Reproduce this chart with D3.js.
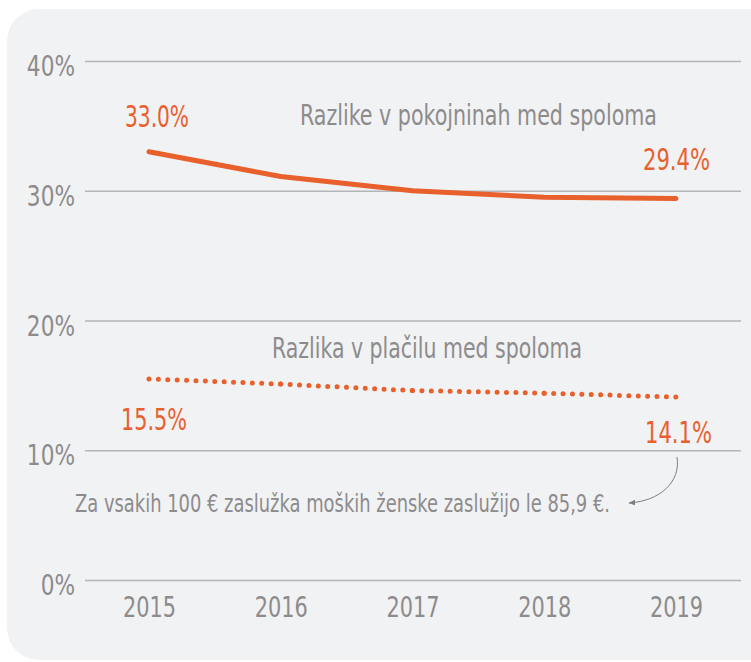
<!DOCTYPE html>
<html><head><meta charset="utf-8">
<script src="https://cdn.jsdelivr.net/npm/d3@7"></script>
<style>
html,body{margin:0;padding:0;background:#fff;}
svg{display:block;}
text{font-family:"Liberation Sans Narrow","DejaVu Sans Condensed","Roboto Condensed",sans-serif;}
</style></head>
<body>
<script>
const years = ["2015","2016","2017","2018","2019"];
const pensionGap = [33.0, 31.1, 30.0, 29.5, 29.4];
const payGap = [15.5, 15.1, 14.6, 14.4, 14.1];
const yTicks = [0, 10, 20, 30, 40];
const pensionTitle = "Razlike v pokojninah med spoloma";
const payTitle = "Razlika v plačilu med spoloma";
const note = "Za vsakih 100 € zaslužka moških ženske zaslužijo le 85,9 €.";

const W = 751, H = 662;
const orange = "#E8602C", gray = "#8d8b8b", grid = "#b5b5b7";
const svg = d3.select("body").append("svg").attr("width", W).attr("height", H);

function squeeze(sel, f) {
  sel.each(function () {
    const n = this.getComputedTextLength();
    d3.select(this).attr("textLength", n * f).attr("lengthAdjust", "spacingAndGlyphs");
  });
}

svg.append("rect").attr("x", 7).attr("y", 9).attr("width", 775).attr("height", 651)
  .attr("rx", 32).attr("fill", "#F1F2F4");

const x = d3.scalePoint().domain(years).range([149, 676]);
const y = d3.scaleLinear().domain([0, 40]).range([580, 61]);

// gridlines
const gy = svg.append("g").attr("transform", "translate(741,0)");
gy.call(d3.axisRight(y).tickValues(yTicks).tickSize(-(741-85)).tickFormat(""));
gy.select(".domain").remove();
gy.selectAll(".tick line").attr("stroke", grid).attr("stroke-width", 1.3);

// y labels
const yl = svg.append("g").selectAll("text").data(yTicks).join("text")
  .attr("x", 75).attr("y", d => y(d) + 15).attr("text-anchor", "end")
  .attr("font-size", 29).attr("fill", gray).text(d => d + "%");
squeeze(yl, 0.83);

// x labels
const gx = svg.append("g").attr("transform", "translate(0,580)")
  .call(d3.axisBottom(x).tickSize(0).tickPadding(0));
gx.select(".domain").remove();
const xt = gx.selectAll(".tick text").attr("y", 37).attr("dy", 0).attr("font-size", 29)
  .attr("fill", gray).attr("font-family", '"Liberation Sans Narrow","DejaVu Sans Condensed",sans-serif');
squeeze(xt, 0.8);

// solid line
const line = d3.line().x((d, i) => x(years[i])).y(d => y(d)).curve(d3.curveLinear);
svg.append("path").attr("d", line(pensionGap)).attr("fill", "none")
  .attr("stroke", orange).attr("stroke-width", 5).attr("stroke-linecap", "round")
  .attr("stroke-linejoin", "round");

// dotted line, per segment
for (let i = 0; i < payGap.length - 1; i++) {
  svg.append("path")
    .attr("d", d3.line()([[x(years[i]), y(payGap[i])], [x(years[i + 1]), y(payGap[i + 1])]]))
    .attr("fill", "none").attr("stroke", orange).attr("stroke-width", 5)
    .attr("stroke-linecap", "round").attr("stroke-dasharray", "0 9.4");
}

// value labels
function lab(t, xx, yy, len) {
  svg.append("text").attr("x", xx).attr("y", yy)
    .attr("font-size", 30).attr("fill", orange).text(t)
    .attr("textLength", len).attr("lengthAdjust", "spacingAndGlyphs");
}
lab(pensionGap[0].toFixed(1) + "%", 125, 127, 64);
lab(pensionGap[4].toFixed(1) + "%", 643, 170, 67);
lab(payGap[0].toFixed(1) + "%", 121, 430, 66);
lab(payGap[4].toFixed(1) + "%", 645, 443, 67);

// titles
svg.append("text").attr("x", 300).attr("y", 125).attr("font-size", 28).attr("fill", gray)
  .attr("textLength", 357).attr("lengthAdjust", "spacingAndGlyphs").text(pensionTitle);
svg.append("text").attr("x", 272).attr("y", 358).attr("font-size", 28).attr("fill", gray)
  .attr("textLength", 310).attr("lengthAdjust", "spacingAndGlyphs").text(payTitle);
svg.append("text").attr("x", 75).attr("y", 512).attr("font-size", 24).attr("fill", gray)
  .attr("textLength", 535).attr("lengthAdjust", "spacingAndGlyphs").text(note);

// arrow
const defs = svg.append("defs");
defs.append("marker").attr("id", "ah").attr("viewBox", "0 0 10 10").attr("refX", 9).attr("refY", 5)
  .attr("markerWidth", 7).attr("markerHeight", 7).attr("orient", "auto")
  .append("path").attr("d", "M0,1 L10,5 L0,9 Z").attr("fill", "#7f7f7f");
svg.append("path").attr("d", "M677,457 C681,482 660,501 629,503")
  .attr("fill", "none").attr("stroke", "#7f7f7f").attr("stroke-width", 1)
  .attr("marker-end", "url(#ah)");
</script>
</body></html>
